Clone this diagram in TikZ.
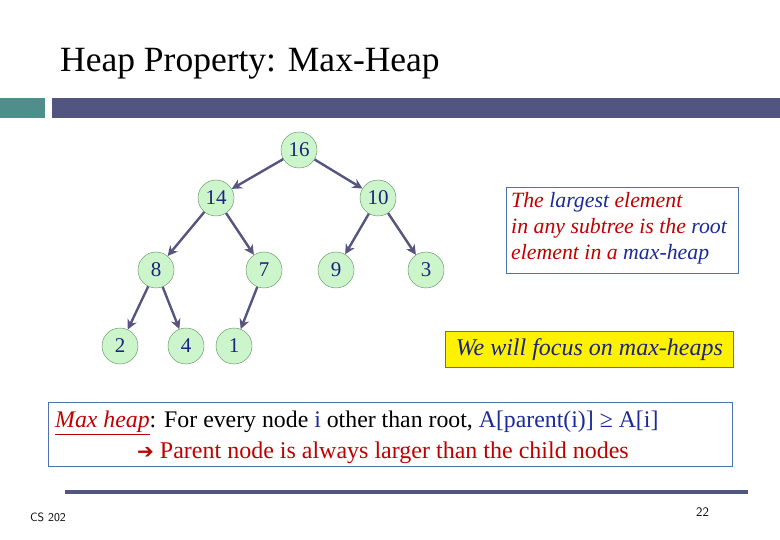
\documentclass[tikz,border=0pt]{standalone}
\usepackage{fontspec}
\setmainfont{Liberation Serif}
\newfontfamily\dejavu{DejaVu Sans}
\usetikzlibrary{arrows.meta}
\definecolor{nfill}{HTML}{CCF5CC}
\definecolor{ndraw}{HTML}{5A8A5A}
\definecolor{ntext}{HTML}{1A237E}
\definecolor{edg}{HTML}{555580}
\definecolor{bar}{HTML}{51557F}
\definecolor{teal1}{HTML}{4E8F8C}
\definecolor{bx}{HTML}{5070B0}
\definecolor{rd}{HTML}{C00000}
\definecolor{bl}{HTML}{1A2A9A}
\tikzset{hn/.style={circle,draw=ndraw,fill=nfill,minimum size=36pt,inner sep=0pt,text=ntext,font=\fontsize{21}{21}\selectfont},
ed/.style={draw=edg,line width=2.4pt,-{Stealth[length=10pt,width=10pt]}}}
\begin{document}
\begin{tikzpicture}[x=1pt,y=-1pt]
\useasboundingbox (0,0) rectangle (780,540);
\node[anchor=base west,font=\fontsize{35.5}{35.5}\selectfont,inner sep=0] (title) at (60,72) {Heap Property: Max-Heap};
\fill[teal1] (0,98) rectangle (45,118);
\fill[bar] (52,98) rectangle (780,118);
\node[hn] (n16) at (299,150) {16};
\node[hn] (n14) at (216,198) {14};
\node[hn] (n10) at (378,198) {10};
\node[hn] (n8) at (156,270) {8};
\node[hn] (n7) at (264,270) {7};
\node[hn] (n9) at (336,270) {9};
\node[hn] (n3) at (426,270) {3};
\node[hn] (n2) at (120,346) {2};
\node[hn] (n4) at (186,346) {4};
\node[hn] (n1) at (234,346) {1};
\foreach \a/\b in {n16/n14,n16/n10,n14/n8,n14/n7,n10/n9,n10/n3,n8/n2,n8/n4,n7/n1}
  \draw[ed] (\a) -- (\b);
\node[draw=bx,line width=0.8pt,minimum width=232pt,minimum height=86pt,anchor=north west,inner sep=0] (b1) at (506,187) {};
\node[align=left,anchor=north west,inner sep=0,font=\itshape\fontsize{21.8}{26}\selectfont,text=rd] (t1) at (511,192)
 {The \textcolor{bl}{largest} element\\in any subtree is the \textcolor{bl}{root}\\element in a \textcolor{bl}{max-heap}};
\node[draw=bx,fill=yellow,line width=0.8pt,minimum width=288pt,minimum height=36pt,anchor=north west,inner sep=0] (b2) at (445,331) {};
\node[font=\itshape\fontsize{24}{24}\selectfont,text=ntext] (t2) at (b2.center) {We will focus on max-heaps};
\node[draw=bx,line width=0.8pt,minimum width=684pt,minimum height=64pt,anchor=north west,inner sep=0] (b3) at (48,402) {};
\node[anchor=base west,inner sep=0,font=\fontsize{23.8}{24}\selectfont] (t3) at (55,428)
 {\textcolor{rd}{\textit{\underline{Max heap}}}: For every node \textcolor{bl}{i} other than root, \textcolor{bl}{A[parent(i)] ≥ A[i]}};
\node[anchor=base west,inner sep=0,font=\fontsize{24}{24}\selectfont,text=rd] (t4) at (137,458)
 {{\dejavu\bfseries\fontsize{20}{20}\selectfont ➔} Parent node is always larger than the child nodes};
\fill[bar] (65,490) rectangle (748,494);
\node[anchor=base west,inner sep=0,font=\sffamily\fontsize{12}{12}\selectfont] (cs) at (30,521) {CS 202};
\node[anchor=base west,inner sep=0,font=\sffamily\fontsize{13}{13}\selectfont] (pg) at (696,516) {22};
\end{tikzpicture}
\end{document}
